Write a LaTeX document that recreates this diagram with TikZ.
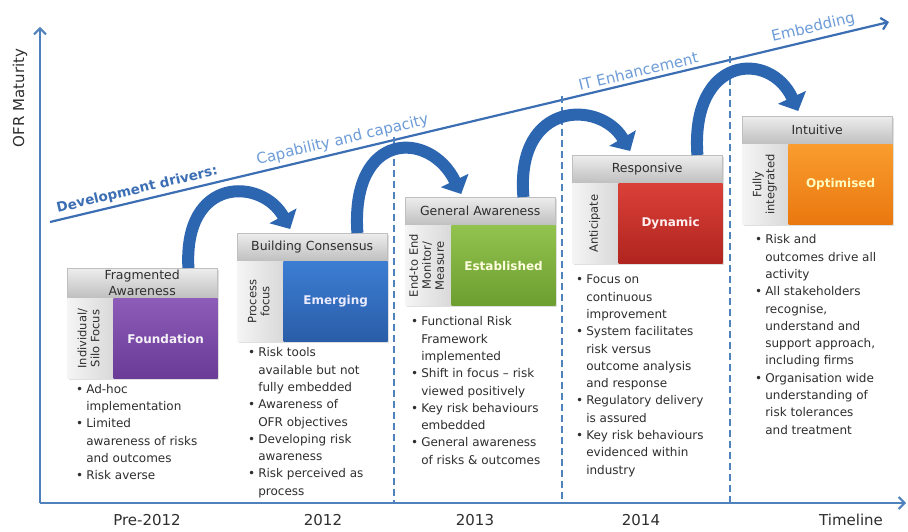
\documentclass[tikz,border=0pt]{standalone}
\usepackage{fontspec}
\usepackage{graphicx}
\setmainfont{DejaVu Sans}
\usetikzlibrary{positioning,arrows.meta,shadows}

\definecolor{axisblue}{HTML}{4F81BD}
\definecolor{drvblue}{HTML}{3C6EB4}
\definecolor{lblblue}{HTML}{6D9CD8}
\definecolor{arcblue}{HTML}{2D66B0}
\definecolor{txtgray}{HTML}{2E2E2E}
\definecolor{hdrtop}{HTML}{EDEDED}
\definecolor{hdrbot}{HTML}{BFBFBF}
\definecolor{purpletop}{HTML}{8C5CB8}
\definecolor{purplebot}{HTML}{6A3C96}
\definecolor{bluetop}{HTML}{3C7DD2}
\definecolor{bluebot}{HTML}{2A5DA8}
\definecolor{greentop}{HTML}{92C24E}
\definecolor{greenbot}{HTML}{6C9E30}
\definecolor{redtop}{HTML}{DA4038}
\definecolor{redbot}{HTML}{B0241F}
\definecolor{orangetop}{HTML}{FA9C2E}
\definecolor{orangebot}{HTML}{E9780F}

\newcommand{\bl}{\textbullet}
\newcommand{\sidetext}[1]{\rotatebox{90}{\begin{tabular}{@{}c@{}}#1\end{tabular}}}

\begin{document}
\begin{tikzpicture}[x=1pt, y=-1pt,
    hdr/.style={draw=gray!50, top color=hdrtop, bottom color=hdrbot, minimum width=150pt,
      minimum height=28pt, inner sep=0pt, anchor=north west, text=txtgray,
      font=\fontsize{12.5}{16}\selectfont, align=center},
    sidebar/.style={left color=gray!8, right color=gray!30, minimum width=46pt,
      minimum height=80pt, inner sep=0pt, anchor=north west, text=txtgray,
      font=\fontsize{11.5}{13}\selectfont},
    core/.style={minimum width=104pt, minimum height=80pt, inner sep=0pt,
      font=\bfseries\fontsize{12}{14}\selectfont},
    bul/.style={anchor=north west, inner sep=0pt, text=txtgray,
      font=\fontsize{12}{17.3}\selectfont},
    year/.style={font=\fontsize{15}{18}\selectfont, text=txtgray},
    axisline/.style={axisblue, line width=2pt, -{Straight Barb[length=6pt,width=12pt]}},
    divider/.style={axisblue, line width=1.4pt, dash pattern=on 7pt off 4pt},
    hop/.style={arcblue, line width=12pt, -{Triangle[length=15pt,width=30pt]}},
    driver/.style={sloped, above, text=lblblue, font=\fontsize{15}{18}\selectfont},
    boxshadow/.style={drop shadow={opacity=0.25, shadow xshift=1.5pt, shadow yshift=-1.5pt}}
  ]
  \fill[white] (0,0) rectangle (908,532);

  % axes
  \coordinate (orig) at (40,503);
  \coordinate (ytop) at (40,27);
  \coordinate (xend) at (906,503);
  \draw[axisline] (orig) -- (ytop);
  \draw[axisline] (orig) -- (xend);
  \node[year, rotate=90] (ylab) at (20,98) {OFR Maturity};

  % development drivers
  \coordinate (drvStart) at (50,222);
  \coordinate (drvEnd) at (889,22);
  \draw[drvblue, line width=2.2pt, -{Straight Barb[length=6pt,width=12pt]}] (drvStart) -- (drvEnd)
    node[driver, pos=0.107, text=drvblue, font=\bfseries\fontsize{13.5}{17}\selectfont] (drvA) {Development drivers:}
    node[driver, pos=0.352] (drvB) {Capability and capacity}
    node[driver, pos=0.704] (drvC) {IT Enhancement}
    node[driver, pos=0.913] (drvD) {Embedding};

  % year dividers
  \coordinate (divAtop) at (394,137);
  \coordinate (divAbot) at (394,503);
  \coordinate (divBtop) at (562,96);
  \coordinate (divBbot) at (562,503);
  \coordinate (divCtop) at (730,56);
  \coordinate (divCbot) at (730,503);
  \draw[divider] (divAtop) -- (divAbot);
  \draw[divider] (divBtop) -- (divBbot);
  \draw[divider] (divCtop) -- (divCbot);

  % Pre-2012
  \node[hdr, minimum height=30pt, boxshadow] (hdrA) at (67,268) {Fragmented\\Awareness};
  \node[sidebar, boxshadow] (sideA) at (hdrA.south west) {\sidetext{Individual/\\Silo Focus}};
  \node[core, boxshadow, top color=purpletop, bottom color=purplebot, text=white!92!purpletop, right=0pt of sideA] (coreA) {Foundation};
  \node[bul] (listA) at (76,381) {\begin{tabular}{@{}l@{\hspace{3pt}}l@{}}
    \bl & Ad-hoc\\ & implementation\\ \bl & Limited\\ & awareness of risks\\
    & and outcomes\\ \bl & Risk averse\end{tabular}};

  % 2012
  \node[hdr, boxshadow] (hdrB) at (237,233) {Building Consensus};
  \node[sidebar, boxshadow] (sideB) at (hdrB.south west) {\sidetext{Process\\focus}};
  \node[core, boxshadow, top color=bluetop, bottom color=bluebot, text=blue!8, right=0pt of sideB] (coreB) {Emerging};
  \node[bul] (listB) at (248,344.5) {\begin{tabular}{@{}l@{\hspace{3pt}}l@{}}
    \bl & Risk tools\\ & available but not\\ & fully embedded\\ \bl & Awareness of\\
    & OFR objectives\\ \bl & Developing risk\\ & awareness\\ \bl & Risk perceived as\\
    & process\end{tabular}};

  % 2013
  \node[hdr, boxshadow] (hdrC) at (405,197) {General Awareness};
  \node[sidebar, boxshadow] (sideC) at (hdrC.south west) {\sidetext{End-to End\\Monitor/\\Measure}};
  \node[core, boxshadow, top color=greentop, bottom color=greenbot, text=yellow!12!white, right=0pt of sideC] (coreC) {Established};
  \node[bul] (listC) at (411,313.5) {\begin{tabular}{@{}l@{\hspace{3pt}}l@{}}
    \bl & Functional Risk\\ & Framework\\ & implemented\\ \bl & Shift in focus -- risk\\
    & viewed positively\\ \bl & Key risk behaviours\\ & embedded\\ \bl & General awareness\\
    & of risks \& outcomes\end{tabular}};

  % 2014
  \node[hdr, boxshadow] (hdrD) at (572,155) {Responsive};
  \node[sidebar, boxshadow] (sideD) at (hdrD.south west) {\sidetext{Anticipate}};
  \node[core, boxshadow, top color=redtop, bottom color=redbot, text=red!6, right=0pt of sideD] (coreD) {Dynamic};
  \node[bul] (listD) at (576,271.5) {\begin{tabular}{@{}l@{\hspace{3pt}}l@{}}
    \bl & Focus on\\ & continuous\\ & improvement\\ \bl & System facilitates\\
    & risk versus\\ & outcome analysis\\ & and response\\ \bl & Regulatory delivery\\
    & is assured\\ \bl & Key risk behaviours\\ & evidenced within\\ & industry\end{tabular}};

  % beyond 2014
  \node[hdr, boxshadow] (hdrE) at (742,116) {Intuitive};
  \node[sidebar, boxshadow] (sideE) at (hdrE.south west) {\sidetext{Fully\\integrated}};
  \node[core, boxshadow, top color=orangetop, bottom color=orangebot, text=yellow!25!white, right=0pt of sideE] (coreE) {Optimised};
  \node[bul] (listE) at (755,231.5) {\begin{tabular}{@{}l@{\hspace{3pt}}l@{}}
    \bl & Risk and\\ & outcomes drive all\\ & activity\\ \bl & All stakeholders\\
    & recognise,\\ & understand and\\ & support approach,\\ & including  firms\\
    \bl & Organisation wide\\ & understanding of\\ & risk tolerances\\ & and treatment\end{tabular}};

  % hops between stages
  \draw[hop] ([xshift=-29pt]hdrA.north east) .. controls +(-5,-93) and +(-28,-51) .. ([xshift=-22pt,yshift=4pt]hdrB.north);
  \draw[hop] ([xshift=-30pt]hdrB.north east) .. controls +(-7,-103) and +(-31,-64) .. ([xshift=-19pt,yshift=3pt]hdrC.north);
  \draw[hop] ([xshift=-32pt]hdrC.north east) .. controls +(-8,-97) and +(-30,-51) .. ([xshift=-17pt,yshift=4pt]hdrD.north);
  \draw[hop] ([xshift=-25pt]hdrD.north east) .. controls +(-7,-100) and +(-28,-61) .. ([xshift=-19pt,yshift=5pt]hdrE.north);

  % timeline
  \node[year] (yrA) at (147,520) {Pre-2012};
  \node[year] (yrB) at (323,520) {2012};
  \node[year] (yrC) at (475,520) {2013};
  \node[year] (yrD) at (641,520) {2014};
  \node[year] (yrE) at (851,520) {Timeline};
\end{tikzpicture}
\end{document}
